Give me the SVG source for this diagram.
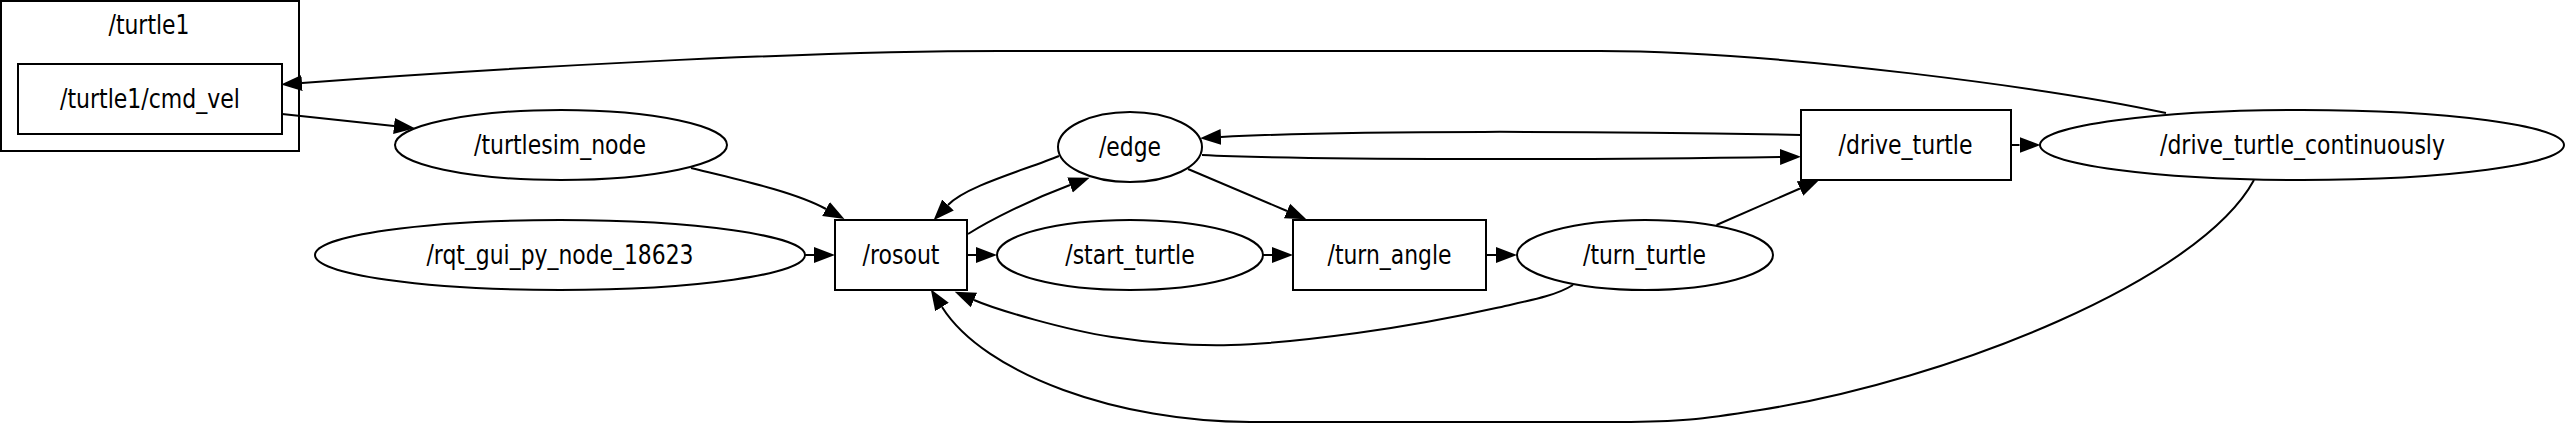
<svg xmlns="http://www.w3.org/2000/svg" width="2567" height="436" viewBox="0 0 2567 436">
<style>
.shape{fill:#fff;stroke:#000;stroke-width:2}
.cluster{fill:none;stroke:#000;stroke-width:2}
.edge{fill:none;stroke:#000;stroke-width:2}
text{font-family:"DejaVu Sans","Liberation Sans",sans-serif;font-size:27.3px;fill:#000;text-anchor:middle}
</style>
<defs>
<marker id="arr" markerUnits="userSpaceOnUse" markerWidth="22" markerHeight="18" viewBox="0 0 22 18" refX="0" refY="9" orient="auto">
<path d="M0,1 L21,9 L0,17 z" fill="#000"/>
</marker>
</defs>
<rect x="0" y="0" width="2567" height="436" fill="#fff"/>
<g id="cluster_turtle1">
<rect class="cluster" x="1" y="1" width="298" height="150"/>
<text x="149" y="33.5" textLength="81" lengthAdjust="spacingAndGlyphs">/turtle1</text>
</g>
<g id="edges">
<path class="edge" marker-end="url(#arr)" d="M2166,113 C2060,90 1780,51 1600,51 L1000,51 C800,51 500,68 302,83"/>
<path class="edge" marker-end="url(#arr)" d="M282,114 L394,126"/>
<path class="edge" marker-end="url(#arr)" d="M691,168 C740,180 795,192 826,209"/>
<path class="edge" marker-end="url(#arr)" d="M805,255 L814,255"/>
<path class="edge" marker-end="url(#arr)" d="M968,234 C990,220 1030,200 1070,185"/>
<path class="edge" marker-end="url(#arr)" d="M1059,156 C1025,170 966,186 948,205"/>
<path class="edge" marker-end="url(#arr)" d="M967,255 L976,255"/>
<path class="edge" marker-end="url(#arr)" d="M1263,255 L1272,255"/>
<path class="edge" marker-end="url(#arr)" d="M1188,169 L1287,211"/>
<path class="edge" marker-end="url(#arr)" d="M1486,255 L1496,255"/>
<path class="edge" marker-end="url(#arr)" d="M1716.5,225 L1800,188.5"/>
<path class="edge" marker-end="url(#arr)" d="M1801,135 C1600,131 1350,130 1221,137"/>
<path class="edge" marker-end="url(#arr)" d="M1202,155 C1300,160 1600,160 1780,157"/>
<path class="edge" marker-end="url(#arr)" d="M2011,145 L2019.5,145"/>
<path class="edge" marker-end="url(#arr)" d="M1573,285 C1555,296 1532,300 1496,308 C1460,316 1401,327 1357,333 C1313,339 1272,344 1231,345 C1190,346 1152,343 1112,337 C1066,330 997,310 974,300"/>
<path class="edge" marker-end="url(#arr)" d="M2254,180 C2200,280 1950,380 1760,410 C1700,419.5 1680,422 1620,422 L1250,422 C1120,422 985,375 942,307"/>
</g>
<g id="node_cmd_vel">
<rect class="shape" x="18" y="64" width="264" height="70"/>
<text x="150" y="108.3" textLength="180" lengthAdjust="spacingAndGlyphs">/turtle1/cmd_vel</text>
</g>
<g id="node_turtlesim_node">
<ellipse class="shape" cx="561" cy="145" rx="166" ry="35"/>
<text x="560" y="154.3" textLength="172" lengthAdjust="spacingAndGlyphs">/turtlesim_node</text>
</g>
<g id="node_rqt_gui">
<ellipse class="shape" cx="560" cy="255" rx="245" ry="35"/>
<text x="560" y="264.3" textLength="267" lengthAdjust="spacingAndGlyphs">/rqt_gui_py_node_18623</text>
</g>
<g id="node_rosout">
<rect class="shape" x="835" y="220" width="132" height="70"/>
<text x="901" y="264.3" textLength="77" lengthAdjust="spacingAndGlyphs">/rosout</text>
</g>
<g id="node_edge">
<ellipse class="shape" cx="1130" cy="147" rx="72" ry="35"/>
<text x="1130" y="156.3" textLength="62" lengthAdjust="spacingAndGlyphs">/edge</text>
</g>
<g id="node_start_turtle">
<ellipse class="shape" cx="1130" cy="255" rx="133" ry="35"/>
<text x="1130" y="264.3" textLength="129.5" lengthAdjust="spacingAndGlyphs">/start_turtle</text>
</g>
<g id="node_turn_angle">
<rect class="shape" x="1293" y="220" width="193" height="70"/>
<text x="1389.5" y="264.3" textLength="124" lengthAdjust="spacingAndGlyphs">/turn_angle</text>
</g>
<g id="node_turn_turtle">
<ellipse class="shape" cx="1645" cy="255" rx="128" ry="35"/>
<text x="1644.5" y="264.3" textLength="123" lengthAdjust="spacingAndGlyphs">/turn_turtle</text>
</g>
<g id="node_drive_turtle">
<rect class="shape" x="1801" y="110" width="210" height="70"/>
<text x="1905.5" y="154.3" textLength="134" lengthAdjust="spacingAndGlyphs">/drive_turtle</text>
</g>
<g id="node_drive_turtle_continuously">
<ellipse class="shape" cx="2302" cy="145" rx="262" ry="35"/>
<text x="2302.5" y="154.3" textLength="285" lengthAdjust="spacingAndGlyphs">/drive_turtle_continuously</text>
</g>
</svg>
